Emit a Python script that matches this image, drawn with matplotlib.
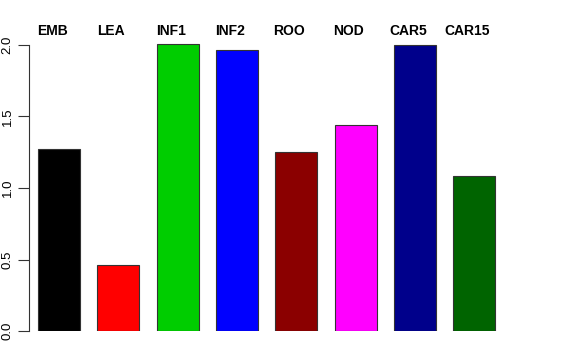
import matplotlib
matplotlib.use("Agg")
import matplotlib.pyplot as plt
import numpy as np

plt.rcParams['font.family'] = ['Liberation Sans', 'DejaVu Sans']

# data
tissues = ['EMB', 'LEA', 'INF1', 'INF2', 'ROO', 'NOD', 'CAR5', 'CAR15']
values = [1.27, 0.46, 2.01, 1.965, 1.255, 1.44, 2.0, 1.085]
colors = ['black', 'red', '#00CD00', 'blue', '#8B0000', 'magenta', '#00008B', '#006400']
yticks = [0.0, 0.5, 1.0, 1.5, 2.0]

W, H = 576, 360
fig = plt.figure(figsize=(W / 100, H / 100), dpi=100)

x = np.arange(len(tissues))
step_px = 59.3
first_px = 59
left_px, right_px = 29, 512
x0 = (left_px - first_px) / step_px
x1 = (right_px - first_px) / step_px
bottom_px, top_px = 331, 31
ymax = (bottom_px - top_px) / 143.0

ax = fig.add_axes([left_px / W, (H - bottom_px) / H,
                   (right_px - left_px) / W, (bottom_px - top_px) / H])
ax.bar(x, values, width=42 / step_px, color=colors, edgecolor='#333333',
       linewidth=0.8)
ax.set_xlim(x0, x1)
ax.set_ylim(0, ymax)

for s in ['top', 'right', 'bottom']:
    ax.spines[s].set_visible(False)
ax.spines['left'].set_bounds(0, 2.0)
ax.spines['left'].set_color('#333333')
ax.set_xticks([])
ax.set_yticks(yticks)
ax.set_yticklabels([f'{v:.1f}' for v in yticks], rotation=90, va='center',
                   fontsize=9.5)
ax.tick_params(axis='y', length=8, width=0.8, pad=3, color='#333333')

for xi, name in zip(x, tissues):
    ax.text(xi - 7 / step_px, 1.0, name, transform=ax.get_xaxis_transform(),
            ha='center', va='center', fontsize=10, fontweight='bold')

fig.savefig('out.png', dpi=100)
